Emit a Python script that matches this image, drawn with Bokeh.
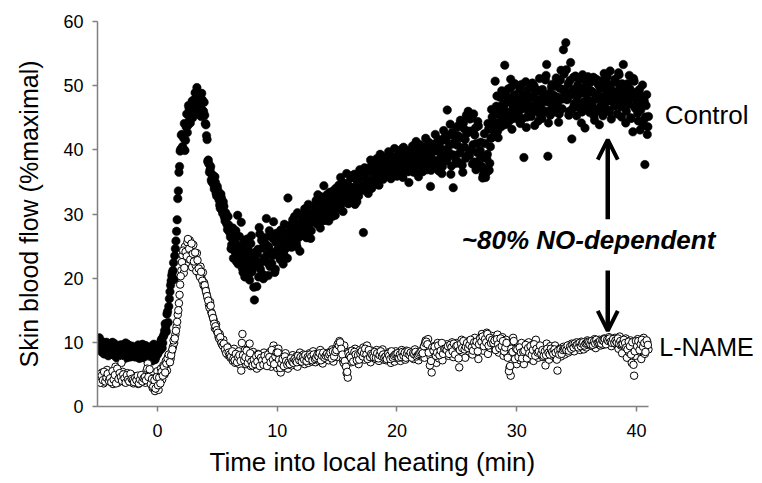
import numpy as np
from bokeh.plotting import figure
from bokeh.models import Range1d, FixedTicker, Label, Arrow, OpenHead, ColumnDataSource, Title
from bokeh.embed import file_html
from bokeh.resources import INLINE

# sample times (min): readings every 0.05 min, split into two interleaved sets
time_a = np.round(np.arange(1, 461) * 0.1 - 5.0, 2)   # -4.90 ... 41.00
time_b = np.round(time_a - 0.05, 2)                    # -4.95 ... 40.95

# Control site, skin blood flow (%maximal), readings at time_a (one row per minute)
control_a = [
    10.4, 9.6, 8.8, 10.1, 9.2, 8.4, 9.7, 8.9, 7.9, 9.3,
    8.6, 9.5, 8.1, 9.8, 8.7, 7.6, 9.1, 8.3, 9.6, 8.0,
    8.8, 7.4, 9.2, 8.5, 9.7, 8.1, 7.7, 8.9, 9.4, 8.2,
    7.9, 9.0, 8.4, 9.6, 7.5, 8.7, 9.3, 8.0, 8.6, 9.5,
    8.3, 7.2, 8.9, 9.1, 7.8, 8.4, 9.7, 7.3, 8.6, 8.1,
    8.7, 9.6, 10.2, 9.1, 10.9, 11.8, 12.4, 14.4, 13.1, 16.8,
    18.9, 20.4, 21.2, 19.8, 24.6, 27.3, 32.4, 36.5, 39.8, 42.3,
    40.5, 41.8, 39.9, 43.6, 42.7, 46.9, 44.8, 45.3, 47.6, 46.2,
    47.9, 46.4, 49.7, 48.3, 45.5, 47.0, 48.8, 46.1, 47.4, 44.1,
    42.2, 38.2, 37.8, 36.9, 35.3, 36.1, 34.6, 35.8, 33.2, 34.3,
    32.7, 31.4, 33.1, 30.6, 31.9, 29.5, 30.2, 28.4, 29.6, 27.3,
    26.4, 25.2, 27.8, 24.3, 26.9, 22.6, 29.8, 25.1, 23.4, 28.7,
    21.5, 24.8, 20.2, 23.6, 26.1, 22.3, 19.7, 25.4, 21.0, 23.9,
    16.6, 22.7, 18.7, 24.5, 27.9, 21.4, 25.9, 20.6, 23.1, 26.3,
    29.3, 22.4, 24.9, 21.8, 26.7, 23.5, 28.8, 20.9, 25.6, 24.2,
    26.8, 23.3, 27.5, 25.1, 22.2, 28.4, 24.6, 26.0, 32.5, 25.4,
    27.6, 24.8, 29.1, 26.3, 28.0, 25.5, 30.2, 27.2, 24.2, 28.6,
    29.4, 26.7, 30.8, 28.1, 27.0, 31.5, 28.8, 26.2, 30.0, 29.1,
    31.2, 28.7, 30.9, 33.0, 29.4, 27.8, 31.6, 30.1, 34.4, 29.0,
    32.3, 30.0, 28.9, 33.4, 31.1, 29.6, 32.8, 30.7, 34.0, 31.9,
    33.5, 31.2, 35.7, 32.0, 30.4, 34.1, 32.9, 36.3, 31.7, 33.6,
    34.2, 32.1, 36.0, 33.3, 31.5, 35.4, 34.7, 32.8, 36.9, 33.9,
    35.8, 27.1, 37.2, 34.6, 36.6, 33.2, 35.1, 38.4, 34.0, 36.3,
    37.4, 35.2, 38.6, 36.1, 34.5, 39.3, 36.8, 35.6, 37.9, 36.4,
    38.2, 36.0, 39.7, 37.3, 35.5, 38.8, 36.7, 40.2, 37.6, 35.9,
    38.9, 36.4, 37.8, 40.1, 35.7, 38.3, 36.9, 39.5, 37.1, 34.9,
    39.0, 37.2, 40.6, 36.5, 38.7, 41.3, 37.9, 35.8, 39.6, 38.4,
    40.1, 37.5, 39.2, 41.8, 36.9, 38.8, 40.7, 34.3, 39.5, 37.8,
    39.9, 42.4, 38.1, 40.6, 36.7, 41.2, 39.3, 37.4, 43.0, 38.9,
    41.5, 46.2, 39.0, 40.8, 36.2, 42.7, 34.1, 41.1, 38.6, 43.5,
    42.2, 38.0, 44.6, 40.3, 36.5, 43.3, 41.6, 45.4, 39.2, 42.9,
    44.8, 40.0, 37.8, 45.6, 42.3, 36.9, 39.6, 43.7, 38.4, 41.2,
    37.4, 36.1, 42.5, 35.7, 38.6, 44.1, 36.8, 40.5, 46.3, 42.0,
    44.3, 50.7, 46.8, 42.9, 45.5, 48.2, 43.6, 47.0, 44.8, 53.2,
    47.3, 44.0, 49.5, 45.8, 51.0, 43.2, 46.7, 48.6, 44.9, 47.7,
    45.3, 48.9, 44.1, 50.2, 46.4, 38.8, 47.9, 43.5, 49.3, 46.0,
    48.1, 45.2, 50.4, 46.6, 43.8, 49.0, 47.4, 44.5, 51.1, 46.2,
    44.9, 48.7, 46.1, 50.9, 53.3, 39.0, 47.6, 45.4, 49.8, 46.8,
    48.5, 45.9, 51.2, 47.2, 44.3, 49.6, 52.4, 46.4, 55.6, 48.9,
    56.7, 47.8, 50.3, 46.0, 53.6, 41.7, 49.4, 47.1, 51.5, 45.3,
    50.1, 46.6, 48.8, 44.2, 51.7, 47.5, 43.4, 49.9, 46.9, 50.6,
    45.8, 49.2, 47.0, 51.3, 44.6, 48.4, 46.3, 50.2, 43.9, 48.0,
    49.6, 45.3, 51.9, 47.7, 50.5, 46.2, 48.9, 52.3, 44.8, 49.1,
    47.4, 51.0, 48.6, 45.6, 52.0, 49.8, 46.7, 50.3, 53.3, 48.2,
    44.2, 49.3, 47.9, 51.6, 45.0, 48.5, 42.8, 50.7, 46.5, 49.0,
    45.7, 48.8, 43.1, 47.4, 50.1, 44.6, 37.7, 46.9, 42.4, 45.2,
]

# Control site, readings at time_b
control_b = [
    9.9, 10.7, 9.1, 8.5, 9.8, 8.2, 9.4, 10.0, 8.6, 8.9,
    9.3, 8.2, 10.0, 8.9, 7.9, 9.4, 8.7, 7.8, 9.0, 8.5,
    9.6, 8.0, 8.7, 9.9, 7.6, 8.4, 9.5, 8.2, 7.8, 9.1,
    8.5, 7.7, 9.2, 8.1, 9.4, 7.9, 8.3, 9.7, 7.6, 8.8,
    9.4, 8.0, 7.5, 8.6, 9.3, 7.1, 8.2, 8.9, 7.6, 9.2,
    8.3, 9.2, 8.8, 10.5, 9.9, 11.2, 12.9, 11.7, 14.8, 15.6,
    17.9, 19.6, 20.9, 22.4, 23.5, 25.8, 29.1, 33.6, 37.4, 40.1,
    42.4, 40.2, 44.1, 41.5, 45.6, 43.8, 46.5, 44.2, 46.8, 45.0,
    46.7, 48.9, 47.3, 45.9, 48.1, 46.6, 45.2, 47.8, 46.0, 45.4,
    43.9, 41.6, 38.4, 36.5, 37.4, 35.0, 35.9, 33.9, 34.9, 32.8,
    33.7, 32.2, 30.9, 32.5, 30.1, 31.2, 28.9, 29.9, 27.6, 28.3,
    27.1, 24.6, 26.2, 23.1, 25.7, 27.4, 24.0, 22.2, 26.5, 24.4,
    22.8, 20.9, 25.9, 23.0, 21.7, 24.6, 20.6, 22.9, 26.6, 22.0,
    18.6, 24.0, 21.9, 23.8, 20.2, 26.9, 22.5, 24.7, 19.9, 22.8,
    25.3, 23.7, 20.4, 27.4, 24.1, 22.3, 26.2, 23.9, 21.4, 27.0,
    24.5, 25.9, 22.9, 26.9, 24.0, 23.8, 27.1, 25.3, 23.1, 26.6,
    26.0, 28.3, 25.7, 27.4, 29.6, 26.8, 24.9, 28.5, 26.4, 27.9,
    27.9, 29.8, 27.6, 29.0, 26.3, 30.4, 28.2, 29.7, 27.4, 28.9,
    30.3, 29.2, 32.1, 28.4, 31.0, 29.8, 32.7, 28.9, 30.6, 31.4,
    30.9, 33.0, 31.8, 29.9, 32.4, 30.5, 31.6, 33.7, 29.8, 32.6,
    32.4, 34.5, 30.9, 33.0, 34.9, 31.8, 33.4, 32.2, 34.8, 31.6,
    33.0, 35.6, 34.1, 32.4, 36.2, 33.6, 31.9, 35.0, 33.8, 35.8,
    34.4, 36.1, 33.7, 37.0, 35.5, 34.3, 36.9, 33.9, 37.5, 35.2,
    36.7, 34.9, 37.6, 35.8, 38.4, 36.2, 37.3, 39.0, 35.4, 37.0,
    36.5, 38.6, 37.9, 36.2, 39.1, 37.0, 38.3, 36.4, 38.9, 37.4,
    37.5, 39.3, 36.0, 38.6, 37.3, 40.4, 36.8, 38.0, 39.9, 36.6,
    37.8, 39.9, 38.2, 37.0, 40.2, 38.9, 36.4, 39.3, 37.6, 40.8,
    38.7, 36.6, 40.4, 38.2, 39.8, 37.4, 41.2, 38.5, 36.8, 40.3,
    38.4, 40.9, 37.7, 39.8, 41.6, 38.5, 40.2, 36.3, 39.6, 41.9,
    40.0, 38.3, 42.2, 39.6, 44.0, 37.5, 40.9, 39.2, 42.0, 37.9,
    40.7, 43.8, 39.5, 41.9, 37.6, 44.2, 40.4, 38.7, 42.6, 46.0,
    39.1, 42.9, 45.0, 40.8, 38.1, 43.4, 41.0, 44.4, 37.3, 39.9,
    38.9, 35.6, 37.0, 41.0, 36.4, 39.3, 43.2, 37.9, 41.8, 45.1,
    43.1, 46.0, 44.2, 48.4, 41.9, 46.5, 44.4, 49.2, 45.7, 43.9,
    46.1, 48.4, 45.3, 47.9, 44.6, 49.8, 45.5, 47.2, 50.3, 46.4,
    47.8, 45.6, 49.6, 47.0, 44.8, 48.5, 46.7, 50.6, 45.1, 48.0,
    46.9, 49.7, 45.9, 48.3, 50.0, 47.1, 46.0, 49.3, 47.8, 45.5,
    47.2, 49.4, 45.8, 48.1, 51.6, 47.5, 44.2, 48.8, 46.3, 50.2,
    47.5, 49.9, 46.8, 50.7, 48.2, 45.6, 50.9, 47.9, 49.4, 51.8,
    49.2, 52.5, 48.0, 45.4, 50.8, 48.6, 46.4, 51.3, 49.0, 47.4,
    48.3, 51.2, 47.1, 49.6, 45.9, 48.9, 50.9, 46.3, 48.6, 51.4,
    47.6, 50.5, 46.8, 49.0, 45.3, 47.9, 51.0, 48.6, 46.1, 49.7,
    47.0, 50.8, 48.3, 46.6, 49.5, 51.4, 47.6, 45.9, 50.1, 48.5,
    49.1, 46.8, 50.6, 48.0, 47.2, 51.7, 48.9, 45.1, 49.9, 47.6,
    48.1, 46.0, 50.3, 47.1, 49.5, 44.9, 48.4, 51.1, 46.7, 47.8,
    47.3, 44.5, 49.4, 46.2, 48.1, 43.8, 47.6, 45.1, 48.6, 43.6,
]

# L-NAME site, skin blood flow (%maximal), readings at time_a
lname_a = [
    4.9, 3.8, 4.5, 5.3, 3.6, 4.6, 4.0, 5.7, 4.3, 3.9,
    4.7, 5.1, 3.5, 4.4, 6.2, 4.8, 3.7, 5.0, 4.2, 6.8,
    5.4, 4.1, 3.8, 4.6, 5.2, 3.9, 4.5, 4.0, 4.8, 3.6,
    4.3, 3.9, 4.7, 3.5, 4.1, 4.4, 3.8, 4.6, 4.0, 3.7,
    5.6, 6.7, 4.9, 3.9, 5.3, 2.9, 4.4, 2.4, 3.4, 5.5,
    2.6, 3.8, 5.9, 4.2, 6.4, 5.0, 7.1, 5.6, 7.8, 6.9,
    7.4, 8.6, 9.3, 9.9, 11.2, 12.4, 14.3, 16.1, 19.0, 21.2,
    23.6, 20.8, 24.9, 22.3, 25.6, 23.0, 25.9, 24.4, 21.7, 25.2,
    23.1, 22.0, 23.9, 21.4, 20.6, 21.8, 19.9, 20.9, 19.3, 18.4,
    17.6, 16.8, 15.9, 16.3, 14.7, 14.1, 13.5, 12.2, 12.8, 11.6,
    10.9, 11.3, 10.1, 9.7, 10.4, 9.1, 8.6, 9.4, 8.0, 8.8,
    7.6, 8.3, 7.1, 9.0, 6.8, 7.9, 7.3, 8.6, 6.5, 5.6,
    11.3, 7.4, 8.8, 6.6, 8.1, 7.0, 9.8, 6.3, 7.7, 8.5,
    6.9, 7.5, 5.9, 8.2, 7.1, 6.4, 7.8, 6.7, 8.4, 7.2,
    6.6, 7.9, 7.0, 8.5, 6.2, 7.4, 9.5, 8.9, 7.1, 6.0,
    9.0, 6.5, 5.3, 7.7, 6.1, 7.0, 8.3, 6.8, 5.9, 7.5,
    7.1, 6.4, 8.0, 7.3, 6.7, 7.8, 6.2, 7.6, 8.4, 6.9,
    7.5, 8.1, 6.6, 7.2, 7.9, 6.8, 8.3, 7.4, 7.0, 8.6,
    7.7, 6.9, 8.2, 7.5, 7.1, 8.8, 7.9, 6.7, 7.4, 8.0,
    8.3, 7.6, 7.2, 8.5, 7.8, 8.9, 7.0, 8.2, 9.0, 7.7,
    9.3, 10.2, 9.8, 8.4, 7.2, 9.5, 6.4, 5.2, 4.5, 7.8,
    8.6, 6.9, 8.1, 7.4, 9.0, 7.7, 8.3, 6.6, 8.8, 7.5,
    8.0, 9.2, 7.3, 8.6, 9.5, 7.9, 8.2, 6.9, 8.7, 7.6,
    8.1, 7.4, 8.8, 7.9, 7.1, 8.4, 7.7, 8.9, 7.3, 8.2,
    7.2, 8.0, 7.6, 8.5, 6.8, 7.9, 8.3, 7.0, 8.6, 7.5,
    7.9, 8.4, 7.1, 8.8, 7.6, 8.2, 7.3, 8.7, 7.8, 8.0,
    8.5, 7.7, 8.1, 7.4, 8.9, 7.9, 8.3, 7.2, 8.6, 7.8,
    8.2, 9.0, 7.6, 10.3, 9.6, 10.5, 9.1, 7.8, 5.3, 8.7,
    9.4, 8.1, 6.8, 9.9, 7.5, 8.6, 9.2, 7.2, 8.8, 9.6,
    8.3, 9.7, 7.9, 9.1, 8.5, 10.0, 7.7, 9.3, 8.7, 9.9,
    8.9, 6.1, 9.6, 10.4, 8.4, 9.2, 7.6, 10.1, 9.4, 8.6,
    10.2, 9.0, 8.1, 9.8, 10.7, 8.8, 9.5, 7.4, 10.5, 9.3,
    11.3, 8.7, 10.9, 9.6, 11.5, 8.2, 10.3, 9.1, 11.0, 9.8,
    10.6, 8.9, 9.7, 11.2, 8.4, 10.0, 9.3, 10.8, 7.9, 9.6,
    10.4, 8.1, 9.0, 6.1, 4.8, 7.3, 10.7, 9.4, 8.2, 6.6,
    9.5, 8.6, 7.2, 9.9, 8.1, 6.6, 9.3, 7.8, 8.8, 10.0,
    7.4, 8.9, 9.6, 7.1, 8.3, 10.4, 8.7, 7.6, 9.2, 8.0,
    9.1, 7.7, 8.5, 6.4, 9.8, 8.2, 7.3, 9.4, 8.6, 7.9,
    8.8, 9.5, 7.5, 5.6, 8.3, 9.0, 7.8, 8.6, 9.3, 8.1,
    8.7, 9.2, 8.4, 9.6, 8.9, 9.8, 9.1, 8.6, 9.4, 10.0,
    9.3, 9.7, 8.8, 10.1, 9.5, 8.9, 9.9, 9.2, 10.3, 9.6,
    9.8, 10.2, 9.4, 9.9, 10.5, 9.1, 10.0, 9.7, 10.4, 9.5,
    10.1, 9.6, 10.6, 9.9, 10.3, 9.8, 10.8, 10.0, 9.4, 10.5,
    10.2, 10.7, 9.7, 10.4, 9.0, 10.9, 9.5, 8.3, 10.1, 9.3,
    10.6, 7.6, 9.8, 8.4, 10.3, 6.8, 9.6, 4.8, 7.9, 9.2,
    10.5, 8.6, 9.9, 7.4, 9.1, 10.7, 8.2, 9.5, 10.1, 8.9,
]

# L-NAME site, readings at time_b
lname_b = [
    4.2, 5.0, 3.7, 4.8, 4.1, 5.4, 3.9, 4.5, 5.1, 4.0,
    4.4, 3.8, 5.5, 4.2, 4.9, 3.6, 5.9, 4.3, 5.2, 4.6,
    4.0, 5.0, 4.4, 3.7, 4.9, 4.2, 3.9, 5.1, 4.3, 4.1,
    3.8, 4.5, 4.1, 4.8, 3.6, 4.2, 4.9, 3.9, 4.4, 4.6,
    4.1, 5.9, 4.6, 5.8, 3.5, 4.3, 3.1, 4.1, 2.8, 4.6,
    3.3, 4.5, 3.6, 5.4, 4.8, 6.2, 5.3, 6.7, 7.5, 8.1,
    6.9, 8.0, 8.9, 10.3, 10.6, 11.8, 13.2, 15.0, 17.4, 20.3,
    22.5, 24.3, 21.6, 24.1, 23.4, 26.1, 24.6, 22.9, 25.4, 23.8,
    22.6, 24.0, 21.1, 22.8, 21.5, 20.2, 21.0, 19.6, 18.9, 18.9,
    18.0, 17.2, 16.5, 15.4, 15.7, 14.5, 13.8, 12.9, 12.5, 11.9,
    11.5, 10.6, 10.8, 9.9, 9.5, 9.8, 8.9, 8.3, 9.2, 8.4,
    8.1, 7.8, 8.6, 7.5, 7.2, 8.2, 6.9, 7.7, 8.0, 7.1,
    9.9, 8.0, 7.2, 7.7, 8.7, 6.8, 7.5, 8.3, 7.0, 6.4,
    7.3, 6.6, 7.8, 7.0, 8.1, 6.3, 7.6, 7.2, 6.5, 7.9,
    7.2, 6.3, 8.1, 7.7, 6.9, 8.8, 7.3, 6.6, 7.8, 8.4,
    8.4, 7.3, 6.0, 6.7, 7.4, 6.3, 7.8, 7.1, 6.5, 6.9,
    6.6, 7.5, 7.0, 6.8, 7.4, 7.1, 6.9, 7.9, 7.2, 7.7,
    7.0, 7.6, 7.3, 8.0, 7.1, 7.7, 7.5, 8.1, 7.8, 7.2,
    8.1, 7.4, 7.6, 8.0, 7.8, 8.3, 7.2, 7.9, 8.4, 7.6,
    7.9, 8.2, 7.8, 8.1, 8.4, 7.5, 8.6, 7.8, 8.5, 8.8,
    9.7, 9.5, 10.0, 9.0, 8.1, 6.8, 7.1, 6.2, 5.4, 8.3,
    7.9, 7.6, 8.7, 7.0, 8.5, 8.1, 7.2, 8.0, 7.3, 8.2,
    8.6, 7.8, 8.3, 9.0, 8.1, 7.4, 8.8, 7.7, 8.2, 8.0,
    7.7, 8.5, 7.6, 8.3, 7.5, 8.0, 8.6, 7.8, 8.1, 7.6,
    7.8, 7.4, 8.2, 7.9, 7.4, 8.6, 7.6, 7.9, 8.1, 8.2,
    8.3, 7.6, 8.1, 7.7, 8.5, 7.9, 8.4, 7.6, 8.3, 8.6,
    8.0, 8.4, 7.6, 8.3, 8.1, 8.5, 7.8, 8.0, 8.2, 8.4,
    8.6, 8.3, 9.4, 9.9, 10.1, 9.7, 8.4, 6.4, 7.1, 9.2,
    8.7, 9.3, 7.9, 8.4, 9.5, 8.0, 8.7, 9.9, 8.2, 9.0,
    9.0, 8.8, 9.4, 8.2, 9.6, 9.2, 8.6, 9.8, 8.1, 9.4,
    9.5, 7.5, 8.8, 9.8, 9.1, 10.2, 8.9, 9.3, 9.9, 9.1,
    9.6, 10.4, 9.2, 8.7, 10.0, 9.5, 10.1, 8.6, 9.7, 10.6,
    10.1, 10.9, 9.4, 10.5, 10.0, 11.3, 9.5, 10.7, 9.9, 10.4,
    9.9, 10.3, 8.8, 10.5, 9.7, 9.1, 10.6, 9.4, 10.2, 8.6,
    9.2, 9.9, 7.6, 5.5, 6.3, 9.0, 8.5, 10.2, 7.4, 9.0,
    8.9, 7.7, 9.2, 8.4, 7.5, 8.5, 8.7, 9.6, 7.5, 9.1,
    8.3, 9.4, 8.0, 8.8, 9.7, 7.9, 9.0, 8.4, 8.6, 9.5,
    8.2, 8.8, 7.9, 8.6, 8.0, 9.0, 8.4, 8.1, 9.0, 8.5,
    8.2, 8.9, 8.4, 7.3, 8.7, 8.1, 8.9, 8.2, 8.8, 9.0,
    9.1, 8.8, 9.5, 8.7, 9.3, 9.0, 9.6, 9.2, 9.8, 9.5,
    9.6, 9.2, 9.9, 9.4, 9.8, 10.0, 9.5, 9.8, 9.9, 10.1,
    10.0, 9.7, 10.2, 9.6, 10.1, 9.8, 10.4, 9.9, 10.0, 10.2,
    9.8, 10.3, 10.2, 10.5, 9.7, 10.4, 10.2, 10.6, 10.1, 9.9,
    10.5, 9.9, 10.3, 10.0, 10.6, 9.8, 10.2, 9.7, 9.8, 10.4,
    9.9, 9.2, 8.9, 10.1, 9.4, 8.1, 10.0, 6.5, 8.6, 10.2,
    9.4, 10.2, 8.8, 9.7, 10.4, 9.3, 9.9, 8.5, 10.3, 9.6,
]

x_ticks = [0, 10, 20, 30, 40]
y_ticks = [0, 10, 20, 30, 40, 50, 60]
series_labels = ["Control", "L-NAME"]
annotation_text = "~80% NO-dependent"
x_title = "Time into local heating (min)"
y_title = "Skin blood flow (%maximal)"

FONT = "Liberation Sans"
AXIS_COLOR = "#808080"

src_a = ColumnDataSource(dict(t=time_a, control=control_a, lname=lname_a))
src_b = ColumnDataSource(dict(t=time_b, control=control_b, lname=lname_b))

# frame spans to the right page edge so the side labels are not clipped;
# the x axis line itself is bounded to -5 ... 41
p = figure(width=762, height=483, output_backend="svg", toolbar_location=None,
           x_range=Range1d(-5, 50.52), y_range=Range1d(0, 60),
           min_border_left=97, min_border_right=0, min_border_top=21,
           min_border_bottom=77)
p.outline_line_color = None
p.xgrid.visible = False
p.ygrid.visible = False
p.background_fill_color = "white"
p.border_fill_color = "white"

for src in (src_a, src_b):
    p.scatter("t", "control", source=src, size=8.5, marker="circle",
              fill_color="black", line_color="black", line_width=0.5)
for src in (src_a, src_b):
    p.scatter("t", "lname", source=src, size=7.5, marker="circle",
              fill_color="white", line_color="black", line_width=1)

for ax, ticks in ((p.xaxis[0], x_ticks), (p.yaxis[0], y_ticks)):
    ax.ticker = FixedTicker(ticks=ticks)
    ax.axis_line_color = AXIS_COLOR
    ax.axis_line_width = 1.5
    ax.major_tick_line_color = AXIS_COLOR
    ax.major_tick_line_width = 1.5
    ax.major_tick_in = 0
    ax.major_tick_out = 5
    ax.minor_tick_line_color = None
    ax.major_label_text_font = FONT
    ax.major_label_text_font_size = "18px"
    ax.major_label_text_color = "black"
    ax.axis_label_text_font = FONT
    ax.axis_label_text_font_style = "normal"
    ax.axis_label_text_color = "black"

p.xaxis[0].bounds = (-5, 41)
p.xaxis[0].major_label_standoff = 12
p.yaxis[0].axis_label = y_title
p.yaxis[0].axis_label_text_font_size = "25px"
p.yaxis[0].major_label_standoff = 9
p.yaxis[0].axis_label_standoff = 17

# x-axis title, placed under the bounded axis line (-5 ... 41)
p.add_layout(Title(text=x_title, align="left", offset=112, standoff=10,
                   text_font=FONT, text_font_size="26px", text_font_style="normal",
                   text_color="black"), "below")

# series labels and annotation
p.add_layout(Label(x=42.35, y=45.4, text=series_labels[0], text_font=FONT,
                   text_font_size="26px", text_baseline="middle", text_color="black"))
p.add_layout(Label(x=41.9, y=9.2, text=series_labels[1], text_font=FONT,
                   text_font_size="25px", text_baseline="middle", text_color="black"))
p.add_layout(Label(x=36.0, y=26.0, text=annotation_text, text_font=FONT,
                   text_font_size="26px", text_font_style="bold italic",
                   text_align="center", text_baseline="middle", text_color="black"))

ARROW_X = 37.6
p.add_layout(Arrow(end=OpenHead(size=20, line_width=4, line_color="black"),
                   x_start=ARROW_X, y_start=29.2, x_end=ARROW_X, y_end=41.6,
                   line_width=4.5, line_color="black"))
p.add_layout(Arrow(end=OpenHead(size=20, line_width=4, line_color="black"),
                   x_start=ARROW_X, y_start=21.2, x_end=ARROW_X, y_end=11.8,
                   line_width=4.5, line_color="black"))

open("out.html", "w").write(file_html(p, INLINE))
